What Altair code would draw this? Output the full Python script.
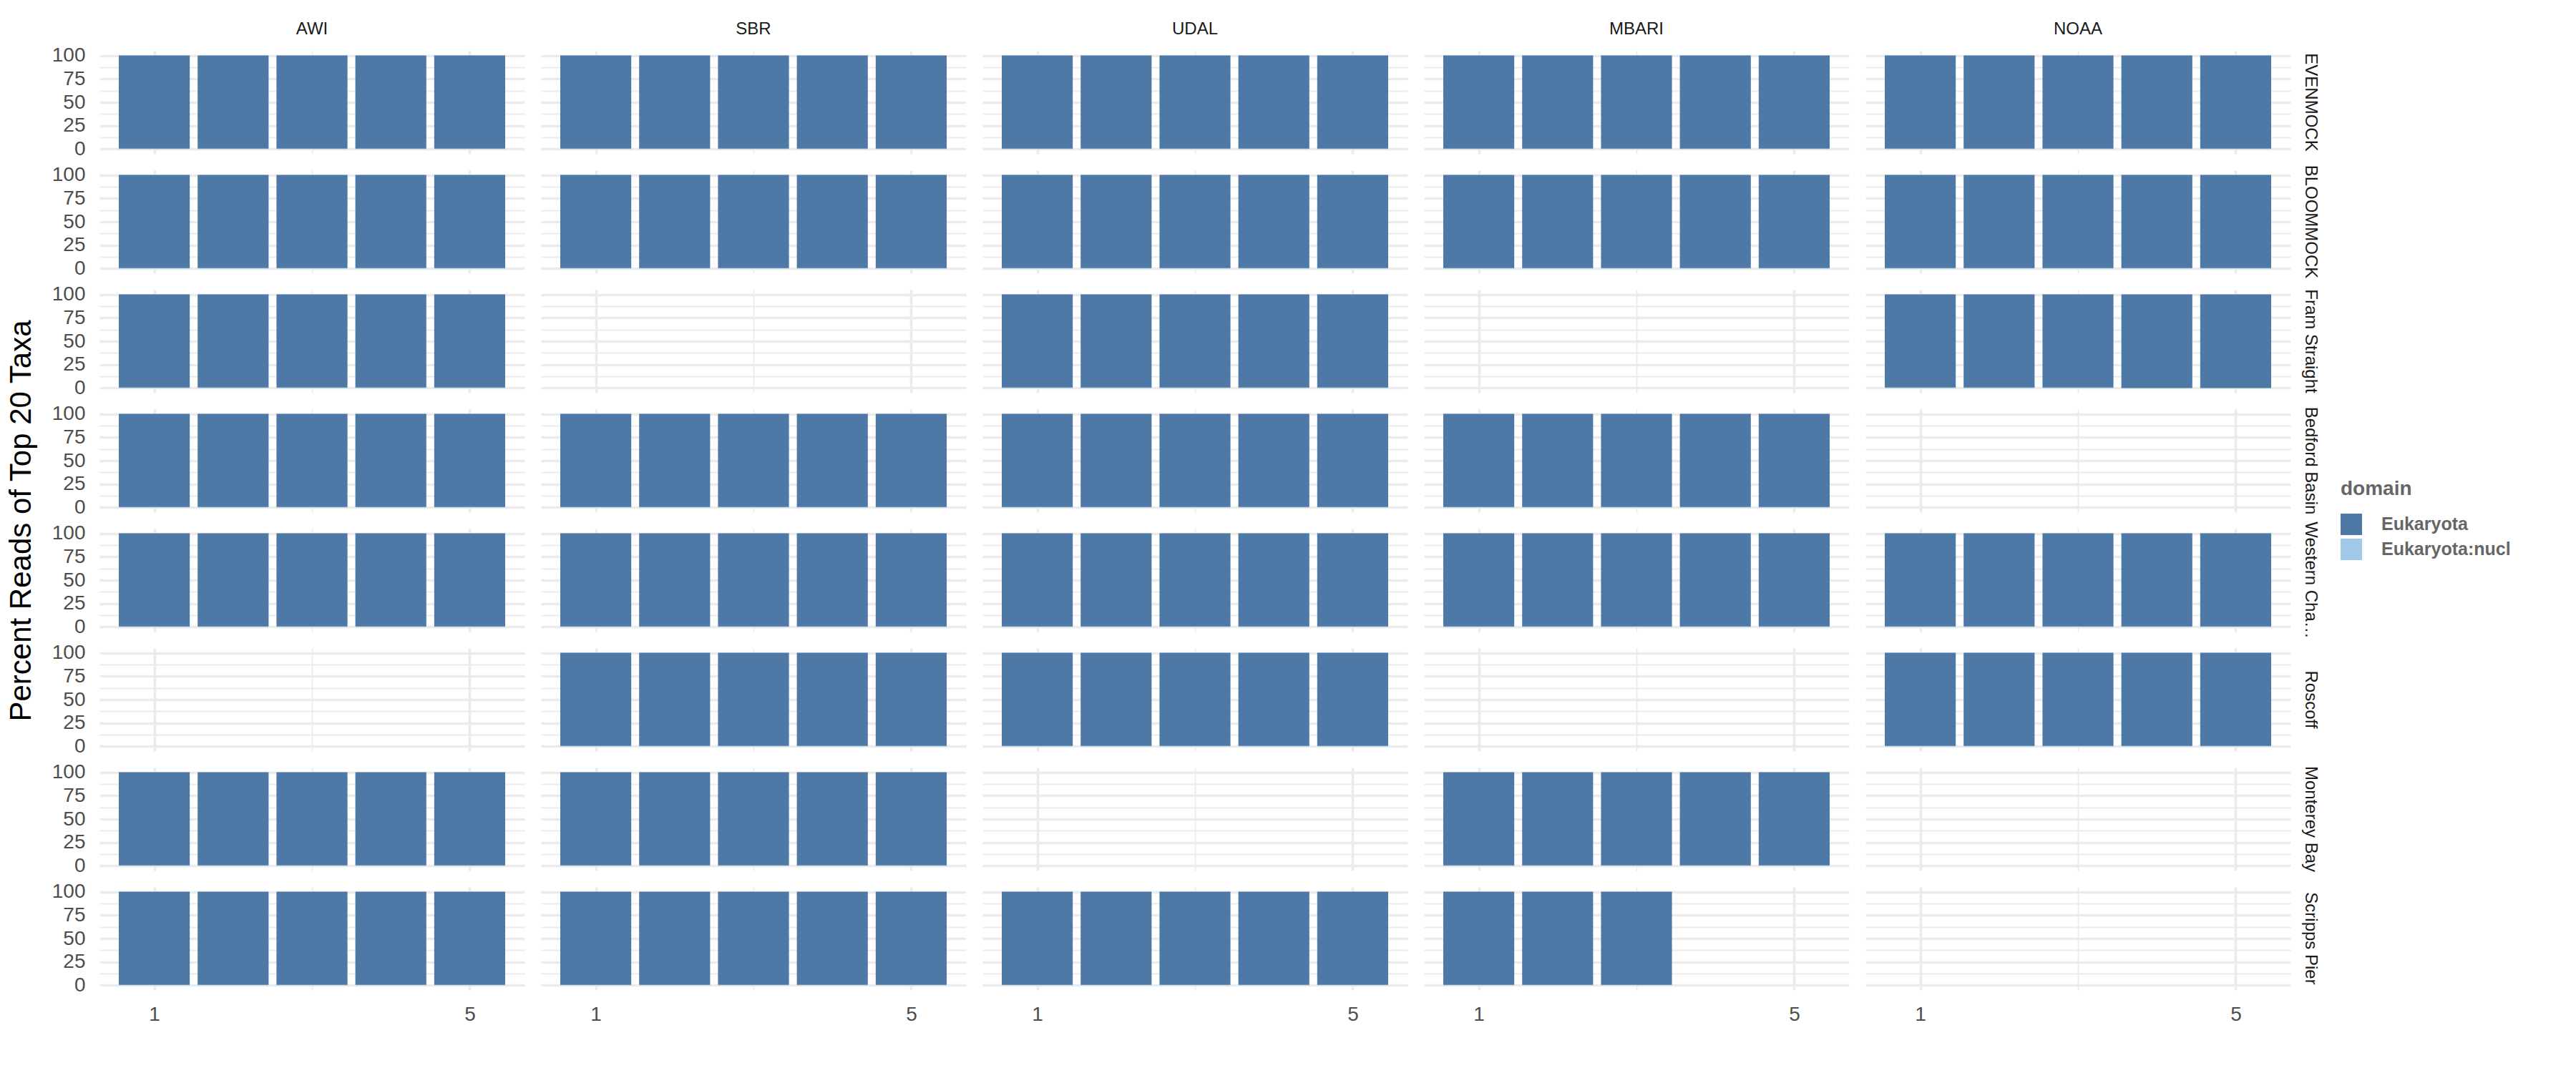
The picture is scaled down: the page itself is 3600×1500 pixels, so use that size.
import altair as alt
import pandas as pd

labs = ["AWI", "SBR", "UDAL", "MBARI", "NOAA"]
sites = ["EVENMOCK", "BLOOMMOCK", "Fram Straight", "Bedford Basin",
         "Western Channel", "Roscoff", "Monterey Bay", "Scripps Pier"]
# number of samples (bars) per panel: rows = sites, cols = labs
n_samples = [
    [5, 5, 5, 5, 5],
    [5, 5, 5, 5, 5],
    [5, 0, 5, 0, 5],
    [5, 5, 5, 5, 0],
    [5, 5, 5, 5, 5],
    [0, 5, 5, 0, 5],
    [5, 5, 0, 5, 0],
    [5, 5, 5, 3, 0],
]
domains = ["Eukaryota", "Eukaryota:nucl"]
domain_colors = ["#4E79A7", "#A0CBE8"]
nucl_pct = 0.5          # tiny Eukaryota:nucl share at the base of each bar
no_nucl = [("Fram Straight", "NOAA", 4), ("Fram Straight", "NOAA", 5)]

rows = []
for i, site in enumerate(sites):
    for j, lab in enumerate(labs):
        n = n_samples[i][j]
        if n == 0:
            # empty panel: zero-height entry keeps the facet cell
            rows.append(dict(site=site, lab=lab, sample=3, domain="Eukaryota", pct=0.0, ord=1))
            continue
        for s in range(1, n + 1):
            nu = 0.0 if (site, lab, s) in no_nucl else nucl_pct
            rows.append(dict(site=site, lab=lab, sample=s, domain="Eukaryota:nucl", pct=nu, ord=0))
            rows.append(dict(site=site, lab=lab, sample=s, domain="Eukaryota", pct=100.0 - nu, ord=1))
df = pd.DataFrame(rows)

FONT = "Liberation Sans"
GRID = "#EBEBEB"

bars = alt.Chart(df).transform_stack(
    stack="pct", groupby=["site", "lab", "sample"], as_=["y0", "y1"],
    sort=[alt.SortField("ord", order="ascending")]
).transform_calculate(
    x0="datum.sample - 0.45", x1="datum.sample + 0.45"
).mark_bar().encode(
    x=alt.X("x0:Q", title=None,
            scale=alt.Scale(domain=[0.305, 5.695], nice=False, zero=False),
            axis=alt.Axis(values=[1, 3, 5],
                          labelExpr="datum.value == 3 ? '' : datum.label",
                          gridWidth={"condition": {"test": "datum.value == 3", "value": 1.8}, "value": 3.5},
                          labelPadding=20)),
    x2="x1:Q",
    y=alt.Y("y0:Q", title=None,
            scale=alt.Scale(domain=[-5, 105], nice=False),
            axis=alt.Axis(values=[0, 12.5, 25, 37.5, 50, 62.5, 75, 87.5, 100],
                          labelExpr="datum.value % 25 == 0 ? datum.label : ''",
                          gridWidth={"condition": {"test": "datum.value % 25 != 0", "value": 1.8}, "value": 3.5},
                          labelPadding=20)),
    y2="y1:Q",
    color=alt.Color("domain:N",
                    scale=alt.Scale(domain=domains, range=domain_colors),
                    legend=alt.Legend(title="domain", orient="none", legendX=3132, legendY=599,
                                      symbolType="square", symbolSize=900, symbolStrokeWidth=0,
                                      titleFontSize=28, labelFontSize=25,
                                      titleFontWeight="bold", labelFontWeight="bold",
                                      titleColor="#666666", labelColor="#666666",
                                      titleFont=FONT, labelFont=FONT, labelLimit=400,
                                      labelOffset=27, rowPadding=5, titlePadding=20)),
).properties(width=594, height=144)

chart = bars.facet(
    row=alt.Row("site:N", sort=sites, title="Percent Reads of Top 20 Taxa",
                header=alt.Header(labelOrient="right", labelAngle=90, labelFontSize=24,
                                  labelColor="#1A1A1A", labelFont=FONT, labelPadding=16,
                                  labelLimit=175,
                                  titleOrient="left", titleFontSize=42, titleFontWeight="normal",
                                  titleColor="#000000", titleFont=FONT, titlePadding=10)),
    column=alt.Column("lab:N", sort=labs, title=None,
                      header=alt.Header(labelFontSize=24, labelColor="#1A1A1A", labelFont=FONT,
                                        labelPadding=18)),
    spacing={"row": 23, "column": 23},
).configure_view(stroke=None).configure_axis(
    domain=False, ticks=False, gridColor=GRID, labelFont=FONT,
    labelFontSize=28, labelColor="#4D4D4D"
).properties(padding={"left": 8, "top": 29, "right": 10, "bottom": 10}, background="white")

chart.save("out.html", embed_options={"renderer": "svg", "actions": False})
